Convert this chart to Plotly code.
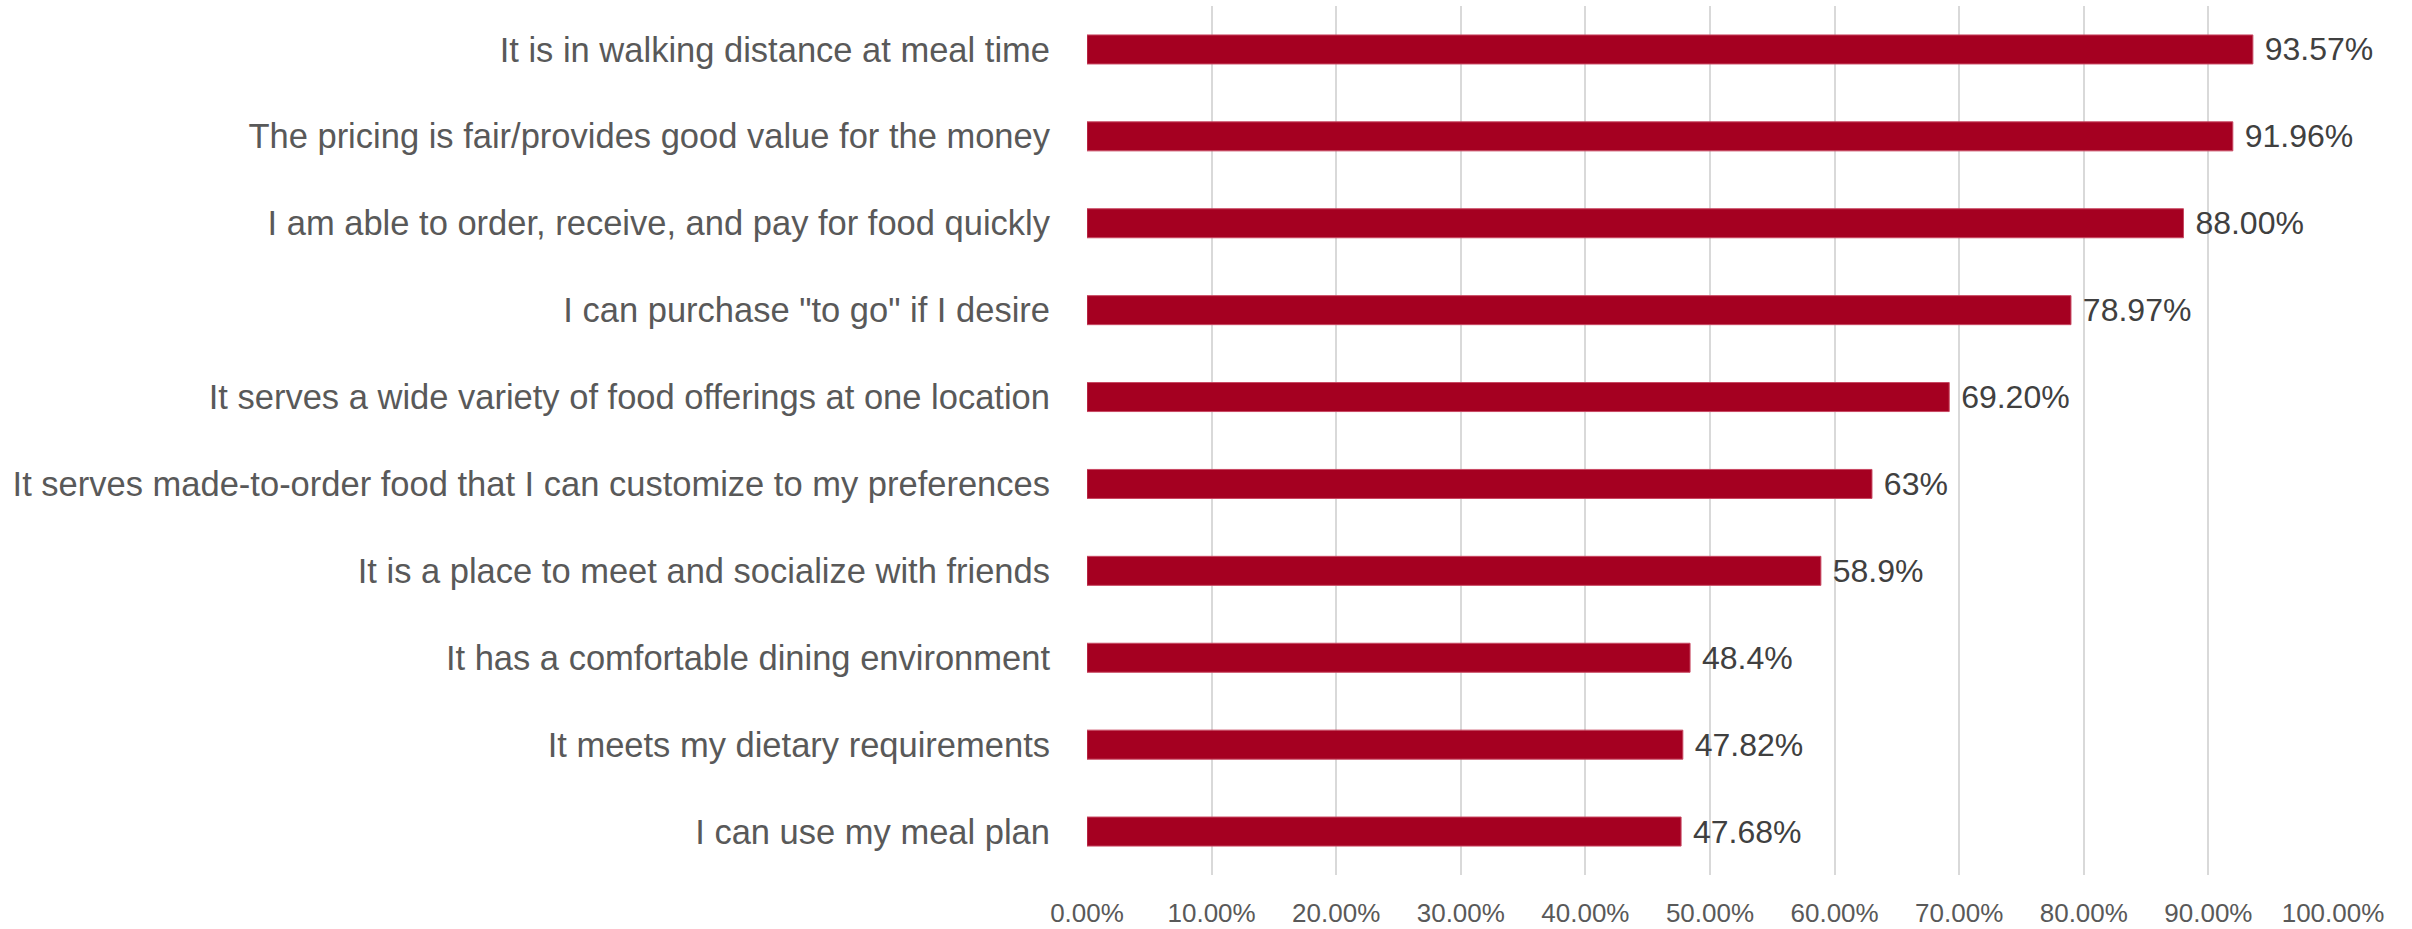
import plotly.graph_objects as go

categories = [
    "It is in walking distance at meal time",
    "The pricing is fair/provides good value for the money",
    "I am able to order, receive, and pay for food quickly",
    "I can purchase \"to go\" if I desire",
    "It serves a wide variety of food offerings at one location",
    "It serves made-to-order food that I can customize to my preferences",
    "It is a place to meet and socialize with friends",
    "It has a comfortable dining environment",
    "It meets my dietary requirements",
    "I can use my meal plan",
]
values = [0.9357, 0.9196, 0.8800, 0.7897, 0.6920, 0.63, 0.589, 0.484, 0.4782, 0.4768]
value_labels = ["93.57%", "91.96%", "88.00%", "78.97%", "69.20%", "63%", "58.9%", "48.4%", "47.82%", "47.68%"]
tick_vals = [0, 0.1, 0.2, 0.3, 0.4, 0.5, 0.6, 0.7, 0.8, 0.9, 1.0]
tick_text = ["0.00%", "10.00%", "20.00%", "30.00%", "40.00%", "50.00%", "60.00%", "70.00%", "80.00%", "90.00%", "100.00%"]

fig = go.Figure(go.Bar(
    x=values,
    y=categories,
    orientation="h",
    marker=dict(color="#A50021", line=dict(color="#C84862", width=1)),
    text=[" " + t for t in value_labels],
    textposition="outside",
    constraintext="none",
    textfont=dict(family="Liberation Sans, Arial, sans-serif", size=32, color="#404040"),
    cliponaxis=False,
))

fig.update_layout(
    width=2412,
    height=929,
    margin=dict(l=1087, r=79, t=6, b=54),
    paper_bgcolor="white",
    plot_bgcolor="white",
    bargap=0.666,
    showlegend=False,
    font=dict(family="Liberation Sans, Arial, sans-serif", color="#595959"),
    xaxis=dict(
        range=[0, 1.0],
        tickvals=tick_vals,
        ticktext=tick_text,
        showgrid=True,
        gridcolor="#D9D9D9",
        gridwidth=2,
        zeroline=False,
        showline=False,
        tickfont=dict(size=26, color="#595959"),
        ticklabelstandoff=20,
        automargin=False,
        fixedrange=True,
    ),
    yaxis=dict(
        autorange="reversed",
        showgrid=False,
        showline=False,
        zeroline=False,
        tickfont=dict(size=34.5, color="#595959"),
        ticklabelstandoff=36,
        automargin=False,
        fixedrange=True,
    ),
)

fig.write_html("out.html")
